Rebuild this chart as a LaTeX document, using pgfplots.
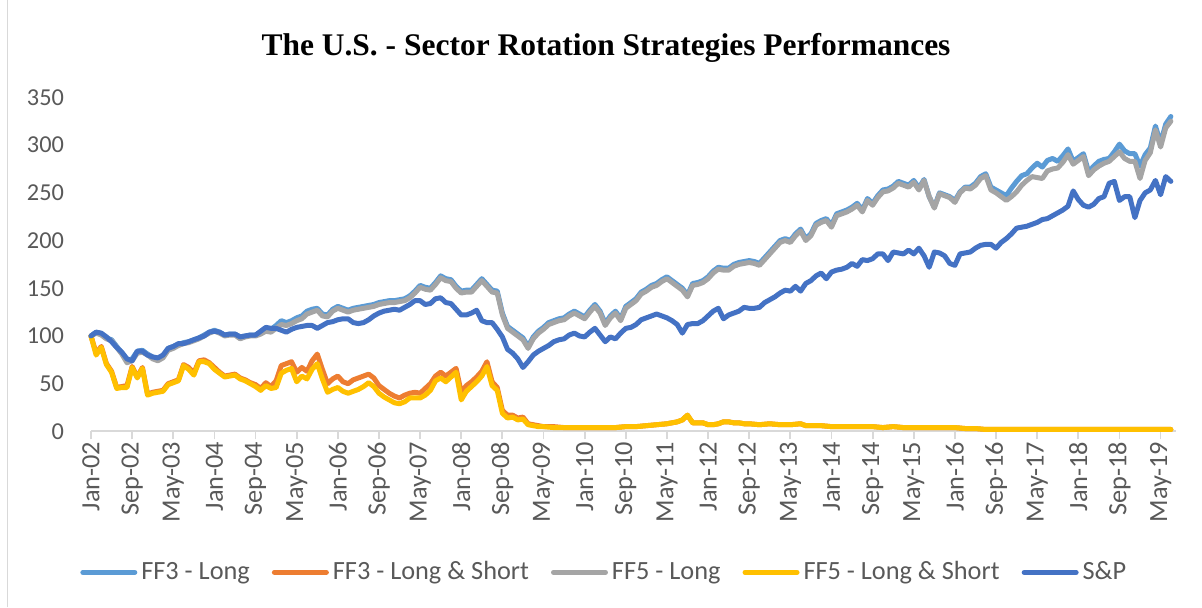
\documentclass[border=0pt]{standalone}
\usepackage{pgfplots}
\pgfplotsset{compat=1.18}
\usepackage{fontspec}
\setmainfont{Carlito}
\newfontfamily\titlefont{Liberation Serif}
\definecolor{ffthreel}{RGB}{91,155,213}
\definecolor{ffthreels}{RGB}{237,125,49}
\definecolor{fffivel}{RGB}{165,165,165}
\definecolor{fffivels}{RGB}{255,192,0}
\definecolor{spx}{RGB}{68,114,196}
\definecolor{txt}{RGB}{89,89,89}
\definecolor{axl}{RGB}{217,217,217}
\begin{document}
\begin{tikzpicture}
\path (0,0) rectangle (601bp,303.5bp);
\draw[axl] (3.5bp,0) -- (3.5bp,303.5bp);
\node[font=\titlefont\bfseries\fontsize{15.8}{18}\selectfont] at (303bp,280bp) {The U.S. - Sector Rotation Strategies Performances};
\begin{axis}[
  at={(45.5bp,88bp)}, anchor=south west,
  scale only axis, width=542.5bp, height=167bp,
  xmin=0, xmax=211, ymin=0, ymax=350,
  ytick={0,50,...,350},
  xtick={0,8,...,208},
  xticklabels={Jan-02,Sep-02,May-03,Jan-04,Sep-04,May-05,Jan-06,Sep-06,May-07,Jan-08,Sep-08,May-09,Jan-10,Sep-10,May-11,Jan-12,Sep-12,May-13,Jan-14,Sep-14,May-15,Jan-16,Sep-16,May-17,Jan-18,Sep-18,May-19},
  axis lines*=left,
  y axis line style={draw=none},
  x axis line style={axl, line width=0.9bp},
  ytick style={draw=none},
  xtick style={axl, line width=0.9bp},
  tick align=outside, major tick length=4bp,
  ticklabel style={font=\fontsize{12.2}{14}\selectfont, text=txt},
  xticklabel style={rotate=90, anchor=east, inner sep=1bp, font=\fontsize{13.2}{15}\selectfont},
  yticklabel style={xshift=-6bp},
  /pgf/number format/assume math mode=true,
  clip=false,
  every axis plot/.append style={line width=2.5bp, line join=round, line cap=round},
  legend columns=5,
  legend style={at={(0.474,-0.422)}, anchor=center, draw=none, fill=none,
    font=\fontsize{13.2}{15}\selectfont, text=txt,
    /tikz/every even column/.append style={column sep=9bp}},
  legend image code/.code={\draw[#1] (0bp,0bp) -- (26bp,0bp);},
]
% FF3 - Long
\addplot[ffthreel] coordinates {
(0,100) (1,104) (2,102) (3,98) (4,96) (5,89) (6,82) (7,74) (8,76) (9,84) (10,85) (11,81) (12,78) (13,76) (14,79) (15,87) (16,89) (17,91) (18,93) (19,94) (20,96) (21,98) (22,101) (23,104) (24,106) (25,104) (26,101) (27,102) (28,102) (29,99) (30,100) (31,101) (32,101) (33,104) (34,107) (35,107) (36,111) (37,116) (38,114) (39,116) (40,119) (41,121) (42,126) (43,128) (44,129) (45,123) (46,122) (47,128) (48,131) (49,129) (50,127) (51,129) (52,130) (53,131) (54,132) (55,133) (56,135) (57,136) (58,137) (59,137) (60,138) (61,139) (62,142) (63,147) (64,153) (65,151) (66,150) (67,156) (68,163) (69,160) (70,159) (71,152) (72,147) (73,148) (74,148) (75,154) (76,160) (77,154) (78,148) (79,147) (80,124) (81,110) (82,106) (83,102) (84,98) (85,89) (86,99) (87,105) (88,109) (89,114) (90,116) (91,118) (92,119) (93,123) (94,126) (95,123) (96,120) (97,127) (98,133) (99,126) (100,113) (101,121) (102,126) (103,118) (104,131) (105,135) (106,139) (107,146) (108,149) (109,153) (110,155) (111,159) (112,162) (113,158) (114,154) (115,150) (116,143) (117,155) (118,156) (119,158) (120,162) (121,168) (122,172) (123,171) (124,171) (125,175) (126,177) (127,178) (128,179) (129,178) (130,176) (131,182) (132,188) (133,194) (134,200) (135,202) (136,200) (137,207) (138,212) (139,202) (140,207) (141,218) (142,221) (143,223) (144,216) (145,228) (146,230) (147,232) (148,235) (149,239) (150,232) (151,244) (152,239) (153,247) (154,253) (155,254) (156,257) (157,262) (158,260) (159,258) (160,263) (161,255) (162,264) (163,246) (164,235) (165,250) (166,248) (167,246) (168,242) (169,251) (170,256) (171,256) (172,260) (173,267) (174,270) (175,256) (176,253) (177,250) (178,247) (179,255) (180,262) (181,268) (182,270) (183,276) (184,281) (185,277) (186,284) (187,286) (188,283) (189,289) (190,296) (191,283) (192,287) (193,291) (194,272) (195,278) (196,283) (197,285) (198,286) (199,293) (200,301) (201,294) (202,291) (203,291) (204,278) (205,290) (206,297) (207,320) (208,302) (209,322) (210,330)
};
% FF3 - Long & Short
\addplot[ffthreels] coordinates {
(0,100) (1,82) (2,89) (3,71) (4,63) (5,46) (6,47) (7,48) (8,68) (9,57) (10,67) (11,39) (12,41) (13,42) (14,43) (15,50) (16,52) (17,54) (18,70) (19,67) (20,61) (21,74) (22,75) (23,72) (24,67) (25,62) (26,58) (27,59) (28,60) (29,56) (30,54) (31,51) (32,49) (33,45) (34,51) (35,47) (36,53) (37,69) (38,71) (39,73) (40,62) (41,67) (42,63) (43,74) (44,81) (45,65) (46,50) (47,55) (48,58) (49,52) (50,50) (51,54) (52,56) (53,58) (54,60) (55,56) (56,48) (57,44) (58,40) (59,37) (60,35) (61,38) (62,40) (63,41) (64,40) (65,45) (66,50) (67,58) (68,62) (69,58) (70,62) (71,66) (72,41) (73,48) (74,52) (75,57) (76,63) (77,73) (78,52) (79,46) (80,22) (81,17) (82,17) (83,14) (84,15) (85,8) (86,7) (87,6) (88,5) (90,5) (92,4) (94,4) (96,4) (98,4) (100,4) (102,4) (104,5) (106,5) (108,6) (110,7) (112,8) (114,10) (115,12) (116,17) (117,9) (118,9) (119,9) (120,7) (121,7) (122,8) (123,10) (124,10) (125,9) (126,9) (127,8) (128,8) (130,7) (132,8) (134,7) (136,7) (138,8) (139,6) (140,6) (142,6) (144,5) (146,5) (148,5) (150,5) (152,5) (154,4) (156,5) (158,4) (160,4) (162,4) (164,4) (166,4) (168,4) (170,3) (172,3) (174,2) (176,2) (180,2) (190,2) (200,2) (210,2)
};
% FF5 - Long
\addplot[fffivel] coordinates {
(0,100) (1,103) (2,101) (3,97) (4,95) (5,88) (6,81) (7,72) (8,74) (9,82) (10,83) (11,80) (12,76) (13,74) (14,77) (15,85) (16,87) (17,90) (18,92) (19,93) (20,95) (21,97) (22,100) (23,103) (24,105) (25,103) (26,100) (27,101) (28,101) (29,97) (30,99) (31,100) (32,100) (33,102) (34,105) (35,104) (36,108) (37,112) (38,111) (39,113) (40,116) (41,118) (42,123) (43,125) (44,127) (45,121) (46,120) (47,126) (48,129) (49,127) (50,125) (51,127) (52,128) (53,129) (54,130) (55,131) (56,133) (57,134) (58,135) (59,135) (60,136) (61,137) (62,140) (63,145) (64,151) (65,149) (66,148) (67,154) (68,161) (69,158) (70,157) (71,150) (72,145) (73,146) (74,146) (75,152) (76,158) (77,152) (78,146) (79,145) (80,122) (81,108) (82,104) (83,100) (84,96) (85,87) (86,97) (87,103) (88,107) (89,112) (90,114) (91,116) (92,117) (93,121) (94,124) (95,121) (96,118) (97,125) (98,131) (99,124) (100,111) (101,119) (102,124) (103,116) (104,129) (105,133) (106,137) (107,144) (108,147) (109,151) (110,153) (111,157) (112,160) (113,156) (114,152) (115,148) (116,141) (117,153) (118,154) (119,156) (120,160) (121,166) (122,170) (123,169) (124,169) (125,173) (126,175) (127,176) (128,177) (129,176) (130,174) (131,180) (132,186) (133,192) (134,198) (135,200) (136,198) (137,205) (138,210) (139,200) (140,205) (141,216) (142,219) (143,221) (144,214) (145,226) (146,228) (147,230) (148,233) (149,237) (150,230) (151,242) (152,237) (153,245) (154,251) (155,252) (156,255) (157,260) (158,258) (159,256) (160,261) (161,253) (162,263) (163,246) (164,234) (165,249) (166,247) (167,245) (168,240) (169,250) (170,255) (171,254) (172,258) (173,265) (174,268) (175,253) (176,250) (177,246) (178,242) (179,246) (180,251) (181,258) (182,263) (183,267) (184,266) (185,265) (186,273) (187,275) (188,276) (189,282) (190,290) (191,280) (192,284) (193,288) (194,268) (195,274) (196,278) (197,281) (198,283) (199,288) (200,293) (201,286) (202,283) (203,283) (204,265) (205,284) (206,292) (207,316) (208,298) (209,318) (210,325)
};
% FF5 - Long & Short
\addplot[fffivels] coordinates {
(0,100) (1,80) (2,88) (3,70) (4,62) (5,45) (6,46) (7,46) (8,67) (9,56) (10,66) (11,38) (12,40) (13,41) (14,42) (15,49) (16,51) (17,53) (18,69) (19,65) (20,59) (21,73) (22,73) (23,71) (24,65) (25,61) (26,57) (27,58) (28,59) (29,55) (30,53) (31,50) (32,47) (33,43) (34,48) (35,45) (36,46) (37,61) (38,64) (39,66) (40,52) (41,58) (42,55) (43,65) (44,71) (45,55) (46,41) (47,44) (48,46) (49,42) (50,40) (51,42) (52,44) (53,47) (54,51) (55,47) (56,40) (57,36) (58,33) (59,30) (60,29) (61,31) (62,35) (63,35) (64,35) (65,38) (66,43) (67,53) (68,56) (69,52) (70,57) (71,62) (72,33) (73,42) (74,47) (75,52) (76,58) (77,68) (78,48) (79,43) (80,19) (81,14) (82,15) (83,12) (84,13) (85,7) (86,6) (87,5) (88,5) (90,4) (92,4) (94,4) (96,4) (98,4) (100,4) (102,4) (104,5) (106,5) (108,6) (110,7) (112,8) (114,10) (115,12) (116,17) (117,9) (118,9) (119,9) (120,7) (121,7) (122,8) (123,10) (124,10) (125,9) (126,9) (127,8) (128,8) (130,7) (132,8) (134,7) (136,7) (138,8) (139,6) (140,6) (142,6) (144,5) (146,5) (148,5) (150,5) (152,5) (154,4) (156,5) (158,4) (160,4) (162,4) (164,4) (166,4) (168,4) (170,3) (172,3) (174,2) (176,2) (180,2) (190,2) (200,2) (210,2)
};
% S&P
\addplot[spx] coordinates {
(0,100) (1,104) (2,103) (3,99) (4,94) (5,88) (6,83) (7,76) (8,74) (9,84) (10,84) (11,80) (12,78) (13,77) (14,80) (15,87) (16,89) (17,92) (18,92) (19,94) (20,96) (21,98) (22,100) (23,104) (24,105) (25,104) (26,101) (27,102) (28,102) (29,99) (30,100) (31,101) (32,101) (33,105) (34,109) (35,108) (36,108) (37,106) (38,104) (39,107) (40,109) (41,110) (42,111) (43,111) (44,108) (45,111) (46,114) (47,115) (48,117) (49,118) (50,118) (51,114) (52,113) (53,114) (54,117) (55,121) (56,124) (57,126) (58,127) (59,128) (60,127) (61,130) (62,133) (63,137) (64,137) (65,133) (66,134) (67,139) (68,140) (69,135) (70,134) (71,128) (72,122) (73,122) (74,124) (75,127) (76,116) (77,114) (78,114) (79,107) (80,99) (81,86) (82,82) (83,76) (84,67) (85,73) (86,80) (87,84) (88,87) (89,90) (90,94) (91,96) (92,97) (93,101) (94,103) (95,100) (96,99) (97,104) (98,108) (99,101) (100,94) (101,99) (102,97) (103,103) (104,108) (105,109) (106,112) (107,117) (108,119) (109,121) (110,123) (111,121) (112,119) (113,116) (114,112) (115,103) (116,112) (117,113) (118,113) (119,116) (120,121) (121,126) (122,129) (123,118) (124,122) (125,124) (126,126) (127,130) (128,129) (129,129) (130,130) (131,135) (132,138) (133,141) (134,145) (135,148) (136,147) (137,152) (138,147) (139,155) (140,158) (141,163) (142,166) (143,160) (144,167) (145,169) (146,170) (147,172) (148,176) (149,173) (150,180) (151,179) (152,181) (153,186) (154,186) (155,179) (156,188) (157,187) (158,186) (159,190) (160,186) (161,192) (162,184) (163,172) (164,188) (165,187) (166,184) (167,176) (168,174) (169,186) (170,187) (171,188) (172,192) (173,195) (174,196) (175,196) (176,192) (177,198) (178,202) (179,207) (180,213) (181,214) (182,215) (183,217) (184,219) (185,222) (186,223) (187,226) (188,229) (189,232) (190,236) (191,252) (192,243) (193,237) (194,235) (195,238) (196,244) (197,246) (198,260) (199,262) (200,242) (201,246) (202,246) (203,224) (204,242) (205,250) (206,253) (207,263) (208,248) (209,267) (210,262)
};
\legend{FF3 - Long, FF3 - Long \& Short, FF5 - Long, FF5 - Long \& Short, S\&P}
\end{axis}
\end{tikzpicture}
\end{document}
